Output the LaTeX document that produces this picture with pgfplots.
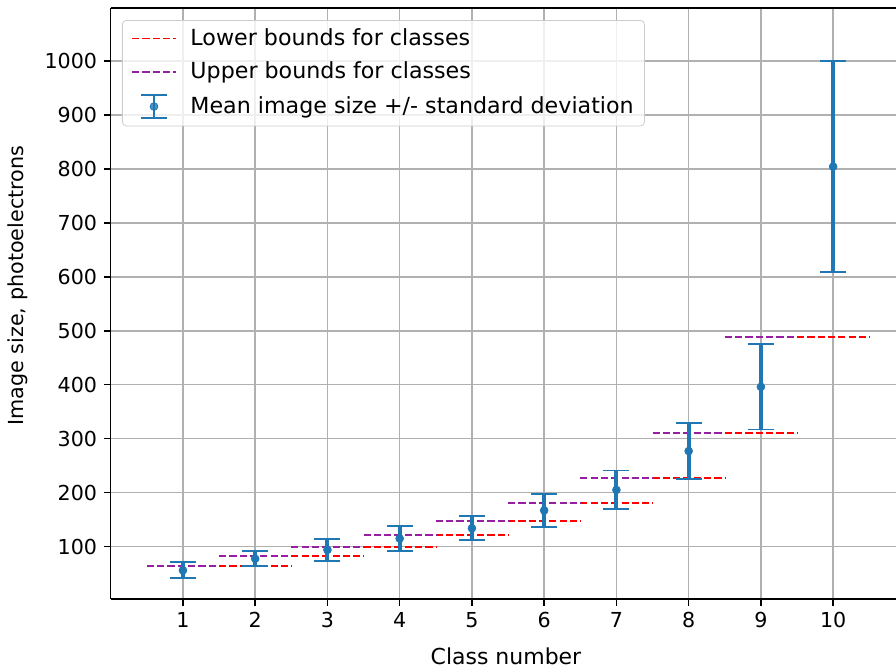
\documentclass[border=0pt]{standalone}
\usepackage{pgfplots}
\pgfplotsset{compat=1.18}
\usepackage{fontspec}
\setmainfont{DejaVu Sans}
\definecolor{tabblue}{HTML}{1F77B4}
\definecolor{mpurple}{RGB}{150,30,160}
\definecolor{gridgray}{HTML}{B0B0B0}
\begin{document}
\begin{tikzpicture}
\begin{axis}[
 width=403.7pt, height=303.8pt, scale only axis,
 xmin=0, xmax=10.87, ymin=3, ymax=1098,
 axis x line*=bottom, axis y line*=left,
 axis line style={-, line width=0.8pt, black},
 xtick={1,...,10}, ytick={100,200,...,1000},
 tick align=outside, major tick length=3.5pt,
 tick style={black, line width=0.8pt},
 grid=major, grid style={gridgray, line width=0.8pt},
 xlabel={Class number}, ylabel={Image size, photoelectrons},
 xlabel style={font=\fontsize{11.3}{13.5}\selectfont, at={(rel axis cs:0,0)}, anchor=center, xshift=203.2pt, yshift=-29.7pt},
 ylabel style={font=\fontsize{10.65}{12.8}\selectfont, at={(rel axis cs:0,0.53)}, anchor=center, yshift=47.6pt},
 tick label style={font=\fontsize{10.6}{12.7}\selectfont},
 /pgf/number format/assume math mode=true,
 /pgf/number format/1000 sep={},
 unbounded coords=jump,
 legend cell align=left,
 legend style={at={(0.0144,0.9796)}, anchor=north west, draw=black!20,
   rounded corners=2pt, fill=white, fill opacity=0.8, text opacity=1,
   font=\fontsize{11.4}{13.7}\selectfont, row sep=5pt, column sep=6pt,
   inner xsep=4.5pt, inner ysep=3.2pt, nodes={inner sep=1pt}},
]
\addplot[red, line width=1pt, dash pattern=on 3.7pt off 1.6pt,
  legend image code/.code={\draw[red, line width=1pt, dash pattern=on 3.7pt off 1.6pt] (0pt,0pt) -- (22.5pt,0pt);}]
 coordinates {(1.5,64)(2.5,64) (2.5,nan) (2.5,82)(3.5,82) (3.5,nan)
  (3.5,100)(4.5,100) (4.5,nan) (4.5,121)(5.5,121) (5.5,nan)
  (5.5,148)(6.5,148) (6.5,nan) (6.5,180)(7.5,180) (7.5,nan)
  (7.5,227)(8.5,227) (8.5,nan) (8.5,311)(9.5,311) (9.5,nan)
  (9.5,489)(10.5,489)};
\addlegendentry{Lower bounds for classes}
\addplot[mpurple, line width=1pt, dash pattern=on 3.7pt off 1.6pt,
  legend image code/.code={\draw[mpurple, line width=1pt, dash pattern=on 3.7pt off 1.6pt] (0pt,0pt) -- (22.5pt,0pt);}]
 coordinates {(0.5,64)(1.5,64) (1.5,nan) (1.5,82)(2.5,82) (2.5,nan)
  (2.5,100)(3.5,100) (3.5,nan) (3.5,121)(4.5,121) (4.5,nan)
  (4.5,148)(5.5,148) (5.5,nan) (5.5,180)(6.5,180) (6.5,nan)
  (6.5,227)(7.5,227) (7.5,nan) (7.5,311)(8.5,311) (8.5,nan)
  (8.5,489)(9.5,489)};
\addlegendentry{Upper bounds for classes}
\addplot[only marks, mark=*, mark size=2pt, color=tabblue,
  legend image code/.code={
   \draw[tabblue, line width=1.5pt] (11.25pt,-6pt) -- (11.25pt,6pt);
   \draw[tabblue, line width=1pt] (4.75pt,6pt) -- (17.75pt,6pt);
   \draw[tabblue, line width=1pt] (4.75pt,-6pt) -- (17.75pt,-6pt);
   \fill[tabblue] (11.25pt,0pt) circle (2pt);},
  error bars/.cd, y dir=both, y explicit,
  error bar style={line width=2pt, tabblue},
  error mark options={tabblue, line width=1pt, mark size=6.7pt, rotate=90}]
 table[x=x, y=y, y error=e] {
 x y e
 1 56 15
 2 77.5 14
 3 94 20
 4 115 23
 5 134 22
 6 167 31
 7 205 36
 8 277 51.6
 9 396 79
 10 804 196
 };
\addlegendentry{Mean image size +/- standard deviation}
\draw[black, line width=0.8pt] (rel axis cs:0,1) -- (rel axis cs:1,1);
\end{axis}
\pgfresetboundingbox
\path[use as bounding box] (-56.9pt,-35.5pt) rectangle (403.7pt,307.9pt);
\end{tikzpicture}
\end{document}
